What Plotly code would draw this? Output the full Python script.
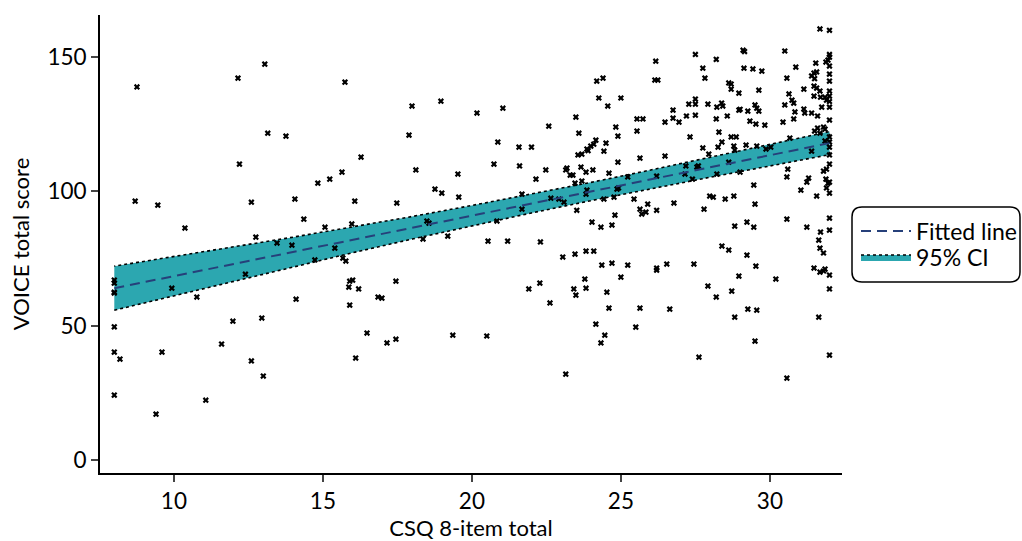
import plotly.graph_objects as go

# ---- scatter data (CSQ 8-item total vs VOICE total score) ----
csq = [8, 8, 8, 8.19, 9.6, 9.4, 11.07, 11.6, 11.98, 12.95, 12.6, 13.0, 9.93, 10.77, 12.4, 8, 8, 8, 8,
       8.76, 12.15, 13.05, 13.15, 12.2, 8.7, 9.46, 12.6, 10.37, 12.75, 13.46, 13.76,
       15.74, 17.99, 18.96, 20.17, 17.89, 16.28, 18.12, 19.53, 15.64, 15.23, 14.83, 14.06, 16.07, 17.48,
       18.76, 18.99, 19.56, 14.36, 15.07, 15.97, 18.49, 18.56, 18.36, 19.19, 13.96, 15.4, 14.73, 15.67, 15.77,
       15.9, 16.0, 15.87, 16.2, 17.45, 14.1, 15.9, 16.85, 16.98, 16.48, 17.15, 17.45, 19.36, 16.1,
       21.04, 22.58, 20.87, 21.58, 22.0, 20.74, 21.6, 22.15, 22.48, 23.49, 23.59, 24.19, 24.4, 24.26, 24.56,
       25.0, 26.17, 26.14, 26.24, 25.54, 25.74, 25.54, 24.83, 24.9, 23.56, 23.69, 23.86, 23.99, 24.09, 24.16,
       23.9, 24.5, 24.43, 23.66, 23.83, 24.06, 23.15, 23.19, 23.3, 23.39, 23.69, 23.46, 23.86, 23.83, 24.6,
       24.9, 25.64, 25.23, 24.87, 24.92, 24.77, 24.43, 25.44, 25.9, 25.64, 25.7, 25.84, 26.2, 24.8, 24.03,
       24.33, 24.7, 23.52, 22.65, 22.92, 23.09, 21.68, 21.68, 20.84, 22.3, 20.54, 21.2, 23.05, 23.46, 23.83,
       24.09, 24.36, 24.7, 25.23,
       26.2, 25.0, 21.91, 22.28, 23.42, 23.79, 23.83, 23.49, 24.53, 22.62, 24.6, 25.64, 24.16, 25.5, 24.46,
       24.33, 20.5, 23.15,
       31.68, 32, 27.5, 28.2, 29.1, 29.15, 30.5, 27.75, 29.13, 29.43, 29.73, 27.82, 30.87, 30.57, 31.54,
       31.88, 31.95, 32, 32, 32, 32, 32, 31.4, 31.48, 31.57, 31.5, 31.48, 31.57, 31.68, 31.48, 31.7, 31.85,
       32, 32, 32, 31.9, 31.74, 32, 32, 31.6, 31.14, 30.64, 30.74, 30.8, 30.5, 30.84, 30.8, 30.44, 31.14,
       31.17, 31.4, 29.63, 28.96, 28.62, 28.7, 28.7, 27.5, 27.5, 27.28, 27.92, 28.22, 28.38, 28.42, 26.75,
       26.75, 26.95, 27.2, 27.5, 26.48, 28.2, 28.57, 28.96, 29.0, 29.26, 29.5, 29.56, 29.63, 29.33, 29.53,
       29.83, 27.32, 28.29, 28.39, 28.26, 28.7, 28.87, 28.79, 28.82, 29.2, 29.56, 27.75, 27.95, 26.48, 29.87,
       30.03, 30.67, 31.5, 31.6, 31.8, 31.85, 31.68, 32, 32, 31.85, 32, 32, 31.4, 32, 31.8, 31.9, 30.6, 30.57,
       28.62, 29.0, 28.22, 27.55, 27.6, 27.18, 27.4, 27.15, 26.2, 29.46, 31.3, 31.24, 31.04, 31.88, 31.95,
       32, 31.9, 32, 31.57, 27.98, 28.1, 28.5, 28.79, 29.5, 26.78, 27.79, 30.57, 32, 31.24, 31.7, 32, 28.82,
       29.23, 29.46, 31.64, 31.68, 31.8, 28.39, 28.62, 29.23, 29.53, 26.2, 26.54, 27.45, 31.48, 31.85,
       28.96, 27.92, 28.2, 28.72, 30.2, 31.68, 31.8, 32, 32, 26.64, 28.82, 29.26, 29.56, 31.64, 29.5, 27.62,
       32, 30.57]
voice = [24.2, 40.2, 49.6, 37.6, 40.2, 17.1, 22.3, 43.2, 51.7, 52.9, 36.9, 31.3, 64, 60.7, 69.2, 67, 65.9, 62.5, 62.2,
         138.9, 142.2, 147.4, 121.7, 110.2, 96.4, 94.9, 96, 86.4, 83, 80.8, 120.6,
         140.7, 131.8, 133.6, 129.2, 121, 112.8, 108, 106.5, 107.2, 104.6, 103.1, 97.2, 96.4, 95.7,
         100.9, 99.4, 97.9, 89.7, 86.7, 87.9, 89, 88.2, 82.3, 83.4, 80, 78.9, 74.5, 75.2, 74.1,
         66.6, 67, 64.4, 63.7, 66.6, 59.9, 57.7, 60.7, 60.3, 47.3, 43.6, 45.0, 46.5, 38.0,
         131, 124.3, 118.4, 116.5, 116.5, 110.2, 109.5, 104.6, 108, 127.7, 121.7, 141.1, 142.2, 134.8, 131.8,
         134.8, 148.5, 141.5, 141.5, 127, 127, 122.5, 124, 120.6, 113.6, 113.9, 115.8, 116.9, 117.6, 119.1,
         115.2, 118, 115, 109.1, 107.2, 108, 108, 108.7, 106.1, 106.1, 103.9, 103.1, 100.5, 99, 106.8,
         110.9, 112.4, 105.4, 100.9, 101.3, 97.9, 97.2, 97.2, 95.3, 93.4, 91.6, 92.3, 93, 91.2, 88.6,
         86.7, 87.5, 93, 97.5, 97.2, 96, 99, 93.4, 89, 81.2, 81.5, 81.5, 75.6, 76.7, 77.8,
         77.8, 72.6, 73.3, 72.6,
         70.7, 68.1, 63.7, 65.9, 63.7, 67.4, 64, 61.4, 62.5, 58.5, 56.6, 56.6, 50.6, 49.5, 46.5,
         43.6, 46.2, 32,
         160.5, 160, 151, 149.2, 152.6, 152.1, 152.3, 145.9, 145.9, 145.6, 144.8, 142.2, 146.3, 142.2, 147.8,
         148.2, 148.9, 150, 151, 146.7, 143.7, 141.1, 143, 144.1, 144.5, 142, 139.2, 138.5, 137.4, 135.5, 135.1, 135.1,
         135.5, 137.4, 133.5, 134, 131.4, 131.4, 126.6, 128.1, 138.1, 136.3, 134, 132.9, 132.2, 129.6, 127, 125.8, 130.7,
         129.2, 129.2, 137.7, 136.6, 140.4, 140, 138.1, 134.4, 132.5, 132.5, 132.5, 131.4, 132.9, 131.8, 130.3,
         127.3, 125.8, 128.1, 128.4, 125.8, 127, 128.1, 130.3, 130.6, 129.9, 132.2, 131, 129.9, 126.2, 125.1,
         124.7, 120.3, 122.1, 118.4, 116.5, 120.3, 120.3, 116.9, 115.4, 117.3, 116.9, 116.2, 113.9, 113.2, 115.8,
         116.5, 119.9, 122.5, 123.6, 124, 123.2, 121.7, 120.3, 118.4, 118.8, 116.5, 113.6, 115, 110.2, 107.6, 108.3, 108.3, 105.4,
         110.9, 107.2, 106.5, 109.1, 109.5, 109.5, 104.6, 106.5, 105.7, 102.4, 105, 103.5, 100.5, 104.6, 103.1,
         103.5, 101.3, 99.4, 98.3, 98.3, 97.9, 97.2, 98.3, 95.3, 95.7, 93.4, 89.7, 90.1, 86.7, 84.9, 85.6, 87.1,
         88.6, 86.7, 81.9, 78.9, 77.1, 79.7, 78.2, 76.3, 72.2, 71.5, 73, 73, 71.5, 71.1,
         68.5, 64.8, 60.7, 62.9, 67.4, 70, 70.4, 68.9, 63.7, 56.2, 53.2, 56.2, 55.8, 53.2, 44.3, 38.3,
         39.1, 30.5]

# ---- fitted line and 95% CI band ----
fit_x = [8, 32]
fit_y = [64, 118]
ci_x = [8, 10, 12, 14, 16, 18, 20, 22, 24, 26, 28, 30, 32]
ci_lower = [55.8, 61.2, 66.6, 72.0, 77.2, 82.3, 87.2, 92.0, 96.6, 101.0, 105.3, 109.5, 113.7]
ci_upper = [72.2, 75.8, 79.4, 83.0, 86.8, 90.7, 94.8, 99.0, 103.4, 108.0, 112.7, 117.5, 122.3]

x_ticks = [10, 15, 20, 25, 30]
y_ticks = [0, 50, 100, 150]

FONT = "Lato"
TEAL = "#2CA7B0"
NAVY = "#26407A"

fig = go.Figure()

fig.add_trace(go.Scatter(
    x=ci_x + ci_x[::-1], y=ci_lower + ci_upper[::-1],
    mode="lines", fill="toself", fillcolor=TEAL,
    line=dict(color="black", width=1.6, dash="dot"),
    name="95% CI", legend="legend2", hoverinfo="skip"))

fig.add_trace(go.Scatter(
    x=csq, y=voice, mode="markers",
    marker=dict(symbol="x", size=5.5, color="black", line=dict(width=0)),
    showlegend=False))

fig.add_trace(go.Scatter(
    x=fit_x, y=fit_y, mode="lines",
    line=dict(color=NAVY, width=2, dash="10px,6px"),
    name="Fitted line", legend="legend"))

W, H = 1022, 541
ml, mr, mt, mb = 100, 180, 15, 68
pw, ph = W - ml - mr, H - mt - mb

TITLE_FONT = dict(family=FONT, size=22, color="black")
TICK_FONT = dict(family=FONT, size=22.5, color="black")
LEG_FONT = dict(family=FONT, size=23, color="black")


def sx(px):
    return (px - ml) / pw


def sy(py):
    return (H - mb - py) / ph


leg_common = dict(xanchor="left", yanchor="middle", bgcolor="rgba(0,0,0,0)",
                  borderwidth=0, font=LEG_FONT, itemwidth=50)

fig.update_layout(
    width=W, height=H,
    margin=dict(l=ml, r=mr, t=mt, b=mb, autoexpand=False),
    paper_bgcolor="white", plot_bgcolor="white",
    font=dict(family=FONT, size=22, color="black"),
    xaxis=dict(range=[7.52, 32.42], tickvals=x_ticks, ticks="outside", ticklen=7, tickwidth=1.5,
               showline=True, linecolor="black", linewidth=1.8, showgrid=False, zeroline=False,
               title=dict(text="CSQ 8-item total", standoff=7, font=TITLE_FONT),
               tickfont=TICK_FONT, automargin=False),
    yaxis=dict(range=[-4.8, 165.7], tickvals=y_ticks, ticks="outside", ticklen=7, tickwidth=1.5,
               showline=True, linecolor="black", linewidth=1.8, showgrid=False, zeroline=False,
               title=dict(text="VOICE total score", standoff=12, font=TITLE_FONT),
               tickfont=TICK_FONT, automargin=False),
    legend=dict(x=sx(856), y=sy(231), **leg_common),
    legend2=dict(x=sx(856), y=sy(257), **leg_common),
    showlegend=True,
)

# rounded legend frame (screen px 852..1020 x 207..282)
x0, x1 = sx(852), sx(1020)
y0, y1 = sy(282), sy(207)
rx, ry = 10 / pw, 10 / ph
path = (f"M {x0+rx},{y1} L {x1-rx},{y1} Q {x1},{y1} {x1},{y1-ry} "
        f"L {x1},{y0+ry} Q {x1},{y0} {x1-rx},{y0} L {x0+rx},{y0} "
        f"Q {x0},{y0} {x0},{y0+ry} L {x0},{y1-ry} Q {x0},{y1} {x0+rx},{y1} Z")
fig.add_shape(type="path", path=path, xref="paper", yref="paper",
              line=dict(color="black", width=1.5), fillcolor="rgba(0,0,0,0)")

# remove the browser's default 8px body margin so the figure sits at the page origin
fig.write_html("out.html",
               config={"displayModeBar": False},
               post_script="document.body.style.margin='0';document.body.style.overflow='hidden';")
